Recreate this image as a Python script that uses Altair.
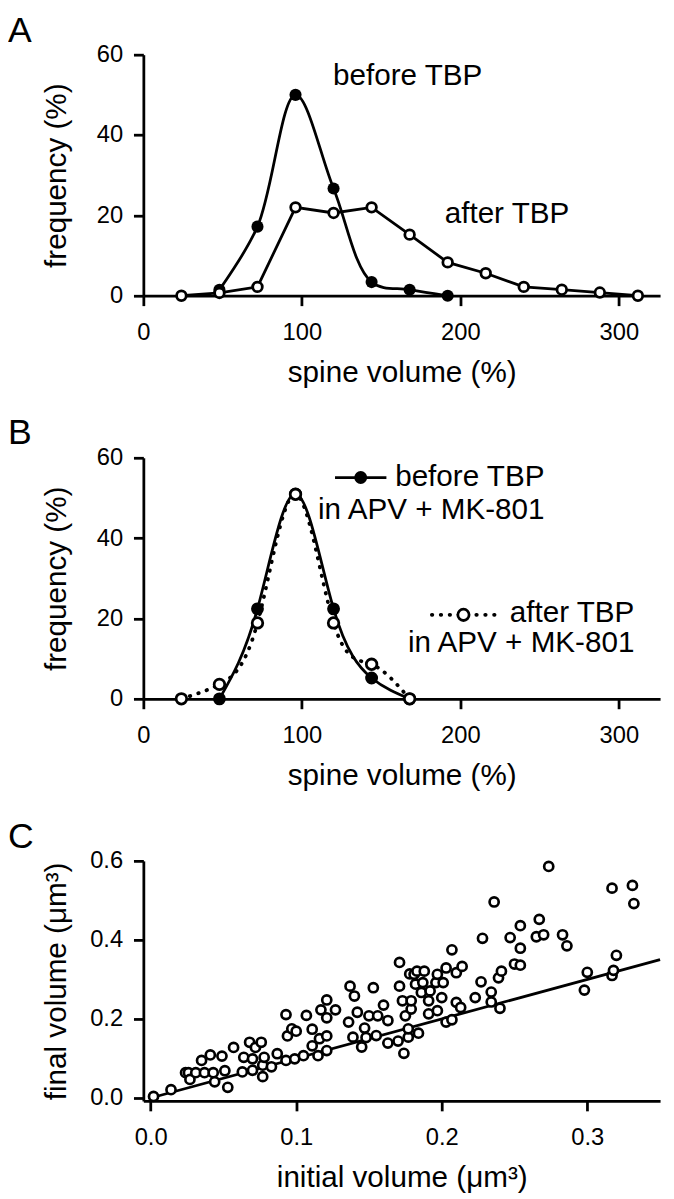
import altair as alt
import pandas as pd

FONT = "Liberation Sans"

# ---------------- Panel A ----------------
a_x_before = [48, 72, 96, 120, 144, 168, 192]
a_y_before = [1.5, 17.2, 50.0, 26.7, 3.4, 1.5, 0.0]
a_x_after = [24, 48, 72, 96, 120, 144, 168, 192, 216, 240, 264, 288, 312]
a_y_after = [0.0, 0.7, 2.2, 22.0, 20.6, 22.0, 15.2, 8.3, 5.6, 2.2, 1.5, 0.8, 0.0]

# ---------------- Panel B ----------------
b_x_before = [48, 72, 96, 120, 144, 168]
b_y_before = [0.0, 22.4, 51.0, 22.4, 5.2, 0.0]
b_x_after = [24, 48, 72, 96, 120, 144, 168]
b_y_after = [0.0, 3.6, 18.9, 50.9, 18.9, 8.6, 0.0]

# ---------------- Panel C ----------------
c_initial = [0.002, 0.014, 0.024, 0.026, 0.027, 0.031, 0.035, 0.037, 0.041, 0.043,
             0.044, 0.049, 0.051, 0.053, 0.057, 0.063, 0.064, 0.068, 0.070, 0.070,
             0.072, 0.076, 0.077, 0.077, 0.078, 0.083, 0.087, 0.093, 0.093, 0.094,
             0.097, 0.099, 0.100, 0.105, 0.107, 0.111, 0.111, 0.115, 0.116, 0.117,
             0.121, 0.121, 0.121, 0.121, 0.127,
             0.136, 0.137, 0.139, 0.140, 0.142, 0.145, 0.147, 0.148, 0.150, 0.153,
             0.155, 0.156, 0.160, 0.163, 0.163, 0.170, 0.171, 0.171, 0.173, 0.174,
             0.175, 0.177, 0.177, 0.178, 0.179, 0.179, 0.181, 0.182, 0.183, 0.184,
             0.186, 0.187, 0.188, 0.191, 0.191, 0.192, 0.196, 0.197, 0.197, 0.200,
             0.201, 0.203, 0.203, 0.207, 0.207, 0.210, 0.210, 0.213, 0.214, 0.223,
             0.227, 0.228, 0.234, 0.234, 0.236, 0.239, 0.240, 0.241, 0.247, 0.250,
             0.254, 0.254, 0.254, 0.265, 0.267, 0.270, 0.2735, 0.283, 0.286, 0.298,
             0.300, 0.317, 0.318, 0.320, 0.317, 0.331, 0.332]
c_final = [0.004, 0.021, 0.064, 0.064, 0.047, 0.064, 0.095, 0.064, 0.109, 0.064,
           0.041, 0.106, 0.069, 0.027, 0.128, 0.066, 0.103, 0.141, 0.099, 0.070,
           0.128, 0.141, 0.083, 0.054, 0.103, 0.079, 0.112, 0.095, 0.211, 0.157,
           0.175, 0.099, 0.169, 0.107, 0.209, 0.174, 0.132, 0.107, 0.150, 0.223,
           0.120, 0.157, 0.203, 0.248, 0.223,
           0.192, 0.283, 0.154, 0.258, 0.217, 0.129, 0.177, 0.153, 0.208, 0.279,
           0.158, 0.208, 0.235, 0.196, 0.139, 0.144, 0.283, 0.343, 0.246, 0.113,
           0.208, 0.154, 0.175, 0.314, 0.225, 0.246, 0.313, 0.288, 0.321, 0.164,
           0.267, 0.292, 0.321, 0.246, 0.213, 0.271, 0.292, 0.313, 0.221, 0.254,
           0.292, 0.329, 0.192, 0.198, 0.375, 0.317, 0.242, 0.229, 0.333, 0.254,
           0.294, 0.404, 0.268, 0.243, 0.496, 0.304, 0.227, 0.321, 0.406, 0.339,
           0.379, 0.436, 0.336, 0.408, 0.452, 0.413, 0.586, 0.413, 0.385, 0.273,
           0.318, 0.310, 0.323, 0.361, 0.531, 0.538, 0.492]
c_line_x = [0.0, 0.35]
c_line_y = [0.0, 0.35]

# ---------------- Texts ----------------
panel_letters = ["A", "B", "C"]
a_labels = ["before TBP", "after TBP"]
b_labels = ["before TBP", "in APV + MK-801", "after TBP", "in APV + MK-801"]
x_titles = ["spine volume (%)", "spine volume (%)", "initial volume (\u03bcm\u00b3)"]
y_titles = ["frequency (%)", "frequency (%)", "final volume (\u03bcm\u00b3)"]

W = 523
H = 244
LW = 2.8
TICK_FS = 24
TITLE_FS = 30

ONE = alt.Data(values=[{}])


def x_axis(title, values, fmt, title_y):
    return alt.Axis(title=title, values=values, format=fmt, grid=False,
                    domainColor="black", domainWidth=LW, tickColor="black",
                    tickWidth=LW, tickSize=10, labelFont=FONT, labelFontSize=TICK_FS,
                    labelColor="black", labelPadding=15, labelFlush=False,
                    titleFont=FONT, titleFontSize=TITLE_FS, titleFontWeight="normal",
                    titleColor="black", titleY=title_y)


def y_axis(title, values, fmt, h):
    return alt.Axis(title=title, values=values, format=fmt, grid=False,
                    domainColor="black", domainWidth=LW, tickColor="black",
                    tickWidth=LW, tickSize=10, labelFont=FONT, labelFontSize=TICK_FS,
                    labelColor="black", labelPadding=11, labelFlush=False,
                    titleFont=FONT, titleFontSize=TITLE_FS, titleFontWeight="normal",
                    titleColor="black", titleX=-73, titleY=h / 2)


def text_at(t, x, y, size=TITLE_FS, align="left"):
    return alt.Chart(ONE).mark_text(font=FONT, fontSize=size, color="black",
                                    align=align, baseline="alphabetic").encode(
        text=alt.value(t), x=alt.value(x), y=alt.value(y))


# ---- A ----
dfA_b = pd.DataFrame({"x": a_x_before, "y": a_y_before})
dfA_a = pd.DataFrame({"x": a_x_after, "y": a_y_after})
xA = alt.X("x:Q", scale=alt.Scale(domain=[0, 326], nice=False, zero=False),
           axis=x_axis(x_titles[0], [0, 100, 200, 300], "d", 63))
yA = alt.Y("y:Q", scale=alt.Scale(domain=[0, 60], nice=False),
           axis=y_axis(y_titles[0], [0, 20, 40, 60], "d", H))

A = alt.layer(
    alt.Chart(dfA_a).mark_line(color="black", strokeWidth=LW).encode(xA, yA),
    alt.Chart(dfA_b).mark_line(color="black", strokeWidth=LW,
                               interpolate="catmull-rom").encode(xA, yA),
    alt.Chart(dfA_b).mark_circle(color="black", size=150, opacity=1).encode(xA, yA),
    alt.Chart(dfA_a).mark_circle(fill="white", stroke="black", strokeWidth=LW,
                                 size=95, opacity=1).encode(xA, yA),
    text_at(a_labels[0], 192, 31),
    text_at(a_labels[1], 305, 170),
    text_at(panel_letters[0], -137, -13, size=36),
).properties(width=W, height=H)

# ---- B ----
dfB_b = pd.DataFrame({"x": b_x_before, "y": b_y_before})
dfB_a = pd.DataFrame({"x": b_x_after, "y": b_y_after})
xB = alt.X("x:Q", scale=alt.Scale(domain=[0, 326], nice=False, zero=False),
           axis=x_axis(x_titles[1], [0, 100, 200, 300], "d", 63))
yB = alt.Y("y:Q", scale=alt.Scale(domain=[0, 60], nice=False),
           axis=y_axis(y_titles[1], [0, 20, 40, 60], "d", H))

dot_style = dict(color="black", strokeWidth=3.8, strokeDash=[0.5, 8.5], strokeCap="round")

B = alt.layer(
    alt.Chart(dfB_a).mark_line(interpolate="natural", **dot_style).encode(xB, yB),
    alt.Chart(dfB_b).mark_line(color="black", strokeWidth=LW,
                               interpolate="natural").encode(xB, yB),
    alt.Chart(dfB_b).mark_circle(color="black", size=170, opacity=1).encode(xB, yB),
    alt.Chart(dfB_a).mark_circle(fill="white", stroke="black", strokeWidth=LW,
                                 size=115, opacity=1).encode(xB, yB),
    # legend: before
    alt.Chart(ONE).mark_rule(color="black", strokeWidth=LW).encode(
        x=alt.value(194), x2=alt.value(246), y=alt.value(20)),
    alt.Chart(ONE).mark_circle(color="black", size=170, opacity=1).encode(
        x=alt.value(220), y=alt.value(20)),
    text_at(b_labels[0], 406, 29, align="right"),
    text_at(b_labels[1], 406, 62, align="right"),
    # legend: after
    alt.Chart(ONE).mark_rule(**dot_style).encode(
        x=alt.value(292), x2=alt.value(358), y=alt.value(159)),
    alt.Chart(ONE).mark_circle(fill="white", stroke="black", strokeWidth=LW,
                               size=130, opacity=1).encode(
        x=alt.value(324), y=alt.value(159)),
    text_at(b_labels[2], 497, 166, align="right"),
    text_at(b_labels[3], 497, 197, align="right"),
    text_at(panel_letters[1], -137, -14, size=36),
).properties(width=W, height=H)

# ---- C ----
dfC = pd.DataFrame({"x": c_initial, "y": c_final})
dfL = pd.DataFrame({"x": c_line_x, "y": c_line_y})
xC = alt.X("x:Q", scale=alt.Scale(domain=[-0.005, 0.35], nice=False, zero=False),
           axis=x_axis(x_titles[2], [0, 0.1, 0.2, 0.3], ".1f", 63))
yC = alt.Y("y:Q", scale=alt.Scale(domain=[-0.0075, 0.6], nice=False, zero=False),
           axis=y_axis(y_titles[2], [0, 0.2, 0.4, 0.6], ".1f", 243))

C = alt.layer(
    alt.Chart(dfL).mark_line(color="black", strokeWidth=LW).encode(xC, yC),
    alt.Chart(dfC).mark_circle(fill="white", stroke="black", strokeWidth=2.7,
                               size=85, opacity=1).encode(xC, yC),
    text_at(panel_letters[2], -137, -13, size=36),
).properties(width=W, height=243)

chart = alt.vconcat(A, B, C, spacing=164, bounds="flush").properties(
    padding={"top": -2, "left": 0, "right": 0, "bottom": 0}
).configure_view(stroke=None)

chart.save("out.html", embed_options={"renderer": "svg", "actions": False})
